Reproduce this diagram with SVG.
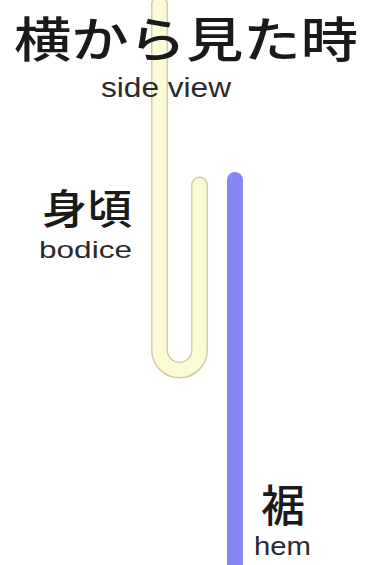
<svg xmlns="http://www.w3.org/2000/svg" width="380" height="565" viewBox="0 0 380 565">
<style>
.jp{font-family:"Noto Sans CJK JP","Noto Sans",sans-serif;fill:#1a1a1a;font-weight:500}
.en{font-family:"Liberation Sans",Arial,sans-serif;fill:#2a2a2a}
</style>
<rect width="380" height="565" fill="#ffffff"/>
<g id="bodice-fabric">
<path d="M159.5,4 V350 A20,20 0 0 0 199.5,350 V185" fill="none" stroke="#d2cea8" stroke-width="17" stroke-linecap="round"/>
<path d="M159.5,4 V350 A20,20 0 0 0 199.5,350 V185" fill="none" stroke="#fbfbd6" stroke-width="14" stroke-linecap="round"/>
</g>
<g id="hem-fabric">
<line x1="235" y1="180" x2="235" y2="570" stroke="#8686f4" stroke-width="16" stroke-linecap="round"/>
</g>
<g id="title">
<text class="jp" x="14" y="57" font-size="48" textLength="344" lengthAdjust="spacingAndGlyphs">横から見た時</text>
<text class="en" x="101" y="97" font-size="27" textLength="130" lengthAdjust="spacingAndGlyphs">side view</text>
</g>
<g id="bodice-label">
<text class="jp" x="42" y="224" font-size="41" textLength="90" lengthAdjust="spacingAndGlyphs">身頃</text>
<text class="en" x="39" y="258" font-size="24" textLength="93" lengthAdjust="spacingAndGlyphs">bodice</text>
</g>
<g id="hem-label">
<text class="jp" x="261" y="522" font-size="44">裾</text>
<text class="en" x="254" y="555" font-size="25" textLength="57" lengthAdjust="spacingAndGlyphs">hem</text>
</g>
</svg>
